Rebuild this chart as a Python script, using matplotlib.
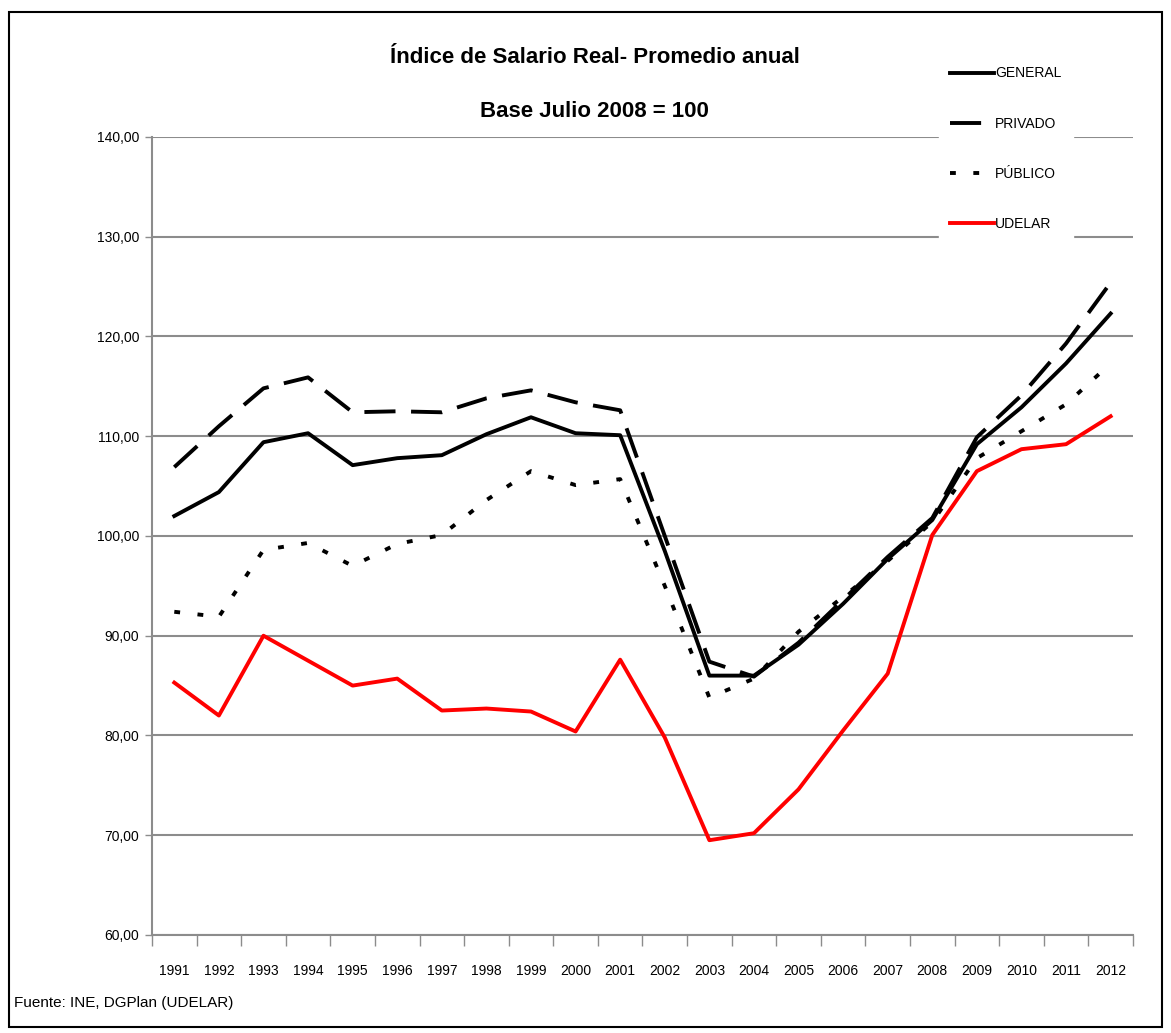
import matplotlib
matplotlib.use("Agg")
import matplotlib.pyplot as plt
import numpy as np
from matplotlib.ticker import MultipleLocator, FixedLocator, FuncFormatter
from matplotlib.patches import Rectangle

plt.rcParams['font.family'] = ['Liberation Sans', 'DejaVu Sans']

years = [str(y) for y in range(1991, 2013)]
general = [102.0, 104.4, 109.4, 110.3, 107.1, 107.8, 108.1, 110.2, 111.9, 110.3, 110.1,
           98.5, 86.0, 86.0, 89.1, 93.2, 97.7, 101.6, 109.2, 112.9, 117.3, 122.3]
privado = [106.9, 111.0, 114.8, 115.9, 112.4, 112.5, 112.4, 113.8, 114.6, 113.4, 112.6,
           100.0, 87.4, 85.9, 89.3, 93.6, 97.9, 101.8, 109.9, 114.1, 119.3, 125.4]
publico = [92.4, 91.9, 98.6, 99.3, 97.0, 99.2, 100.1, 103.6, 106.5, 105.1, 105.7,
           95.0, 83.8, 85.7, 90.4, 93.9, 97.5, 101.4, 107.8, 110.5, 113.2, 117.3]
udelar = [85.3, 82.0, 90.0, 87.5, 85.0, 85.7, 82.5, 82.7, 82.4, 80.4, 87.6,
          79.8, 69.5, 70.2, 74.6, 80.5, 86.2, 100.1, 106.5, 108.7, 109.2, 112.0]

fig = plt.figure(figsize=(11.71, 10.33), dpi=100)
ax = fig.add_axes([0.1298, 0.0949, 0.9675 - 0.1298, 0.8674 - 0.0949])

x = np.arange(len(years))
ax.plot(x, general, color='black', lw=2.8, label='GENERAL', solid_joinstyle='round')
ax.plot(x, privado, color='black', lw=2.8, dashes=(8, 4), label='PRIVADO')
ax.plot(x, publico, color='black', lw=2.8, dashes=(1.5, 4.5), label='PÚBLICO')
ax.plot(x, udelar, color='#ff0000', lw=2.8, label='UDELAR')

ax.set_xlim(-0.5, len(years) - 0.5)
ax.set_ylim(60, 140)
ax.yaxis.set_major_locator(MultipleLocator(10))
ax.yaxis.set_major_formatter(FuncFormatter(lambda v, p: f"{v:.2f}".replace('.', ',')))
ax.grid(axis='y', color='#8c8c8c', lw=1.5)
ax.set_axisbelow(True)

ax.set_xticks(x)
ax.set_xticklabels(years, fontsize=10)
ax.xaxis.set_minor_locator(FixedLocator(np.arange(-0.5, len(years), 1)))
ax.tick_params(axis='x', which='major', length=0, pad=21)
ax.tick_params(axis='x', which='minor', length=8, color='#8c8c8c', width=1)
ax.tick_params(axis='y', length=5, color='#8c8c8c', width=1, labelsize=10, pad=4)

for s in ['top', 'right']:
    ax.spines[s].set_visible(False)
for s in ['left', 'bottom']:
    ax.spines[s].set_color('#8c8c8c')
    ax.spines[s].set_linewidth(1.5)

fig.text(0.508, 0.944, 'Índice de Salario Real- Promedio anual', ha='center', va='center',
         fontsize=16, fontweight='bold')
fig.text(0.508, 0.892, 'Base Julio 2008 = 100', ha='center', va='center',
         fontsize=16, fontweight='bold')

leg = ax.legend(loc='upper left', bbox_to_anchor=(0.795, 1.111), frameon=True, edgecolor='white',
                facecolor='white', framealpha=1, fontsize=10, handlelength=3.2,
                handletextpad=0.05, labelspacing=2.6, borderpad=0.8)
leg.set_zorder(5)

fig.text(0.012, 0.029, 'Fuente: INE, DGPlan (UDELAR)', ha='left', va='center', fontsize=11)

fig.patches.append(Rectangle((0.008, 0.006), 0.984, 0.982, transform=fig.transFigure,
                             fill=False, edgecolor='black', lw=1.5))

fig.savefig('out.png', dpi=100)
